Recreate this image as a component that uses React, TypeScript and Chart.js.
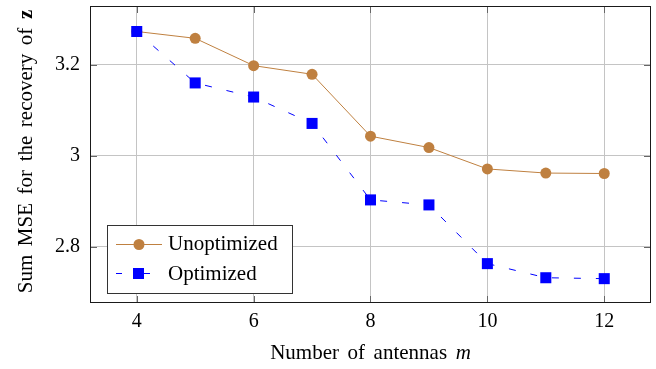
import React, { useEffect, useRef } from "react";
import { Chart, registerables } from "chart.js";
Chart.register(...registerables);

const antennas = [4, 5, 6, 7, 8, 9, 10, 11, 12];
const unoptimized = [3.273, 3.258, 3.198, 3.179, 3.043, 3.018, 2.971, 2.962, 2.961];
const optimized = [3.273, 3.16, 3.129, 3.071, 2.903, 2.892, 2.763, 2.732, 2.73];
const xTicks = [4, 6, 8, 10, 12];
const yTicks = [2.8, 3, 3.2];
const seriesNames = ["Unoptimized", "Optimized"];
const xTitle = "Number of antennas";
const xTitleVar = "m";
const yTitle = "Sum MSE for the recovery of";
const yTitleVar = "z";

const BROWN = "#BF8040";
const BLUE = "#0000FF";
const FONT = '"Liberation Serif", "Times New Roman", serif';
const EXTRA_SPACE = 3.3;

function spacedText(ctx: any, words: string[], fonts: string[], x: number, y: number, draw: boolean) {
  let cx = x;
  words.forEach((w, i) => {
    ctx.font = fonts[i];
    if (draw) ctx.fillText(w, cx, y);
    cx += ctx.measureText(w).width;
    if (i < words.length - 1) {
      ctx.font = fonts[0];
      cx += ctx.measureText(" ").width + EXTRA_SPACE;
    }
  });
  return cx - x;
}

const decorPlugin = {
  id: "decor",
  afterDatasetsDraw(chart: any) {
    const { ctx, chartArea } = chart;
    const { left, right, top, bottom } = chartArea;
    const xs = chart.scales.x;
    const ys = chart.scales.y;
    ctx.save();
    // inner tick marks
    ctx.strokeStyle = "#666";
    ctx.lineWidth = 1;
    ctx.beginPath();
    xTicks.forEach((t) => {
      const px = Math.round(xs.getPixelForValue(t)) + 0.5;
      ctx.moveTo(px, top);
      ctx.lineTo(px, top + 7);
      ctx.moveTo(px, bottom);
      ctx.lineTo(px, bottom - 7);
    });
    yTicks.forEach((t) => {
      const py = Math.round(ys.getPixelForValue(t)) + 0.5;
      ctx.moveTo(left, py);
      ctx.lineTo(left + 7, py);
      ctx.moveTo(right, py);
      ctx.lineTo(right - 7, py);
    });
    ctx.stroke();
    // frame
    ctx.strokeStyle = "#1a1a1a";
    ctx.strokeRect(left + 0.5, top + 0.5, right - left - 1, bottom - top - 1);

    // legend
    const lx = 107.5, ly = 225.5, lw = 185, lh = 68;
    ctx.fillStyle = "#ffffff";
    ctx.fillRect(lx, ly, lw, lh);
    ctx.strokeStyle = "#333";
    ctx.strokeRect(lx, ly, lw, lh);
    const r1 = 244.5, r2 = 273.5;
    ctx.strokeStyle = BROWN;
    ctx.beginPath();
    ctx.moveTo(116, r1);
    ctx.lineTo(162, r1);
    ctx.stroke();
    ctx.fillStyle = BROWN;
    ctx.beginPath();
    ctx.arc(139, r1, 5.5, 0, Math.PI * 2);
    ctx.fill();
    ctx.strokeStyle = BLUE;
    ctx.beginPath();
    ctx.moveTo(116, r2);
    ctx.lineTo(122, r2);
    ctx.moveTo(139, r2);
    ctx.lineTo(150, r2);
    ctx.stroke();
    ctx.fillStyle = BLUE;
    ctx.fillRect(133, r2 - 5.5, 11, 11);
    ctx.fillStyle = "#000";
    ctx.font = "21px " + FONT;
    ctx.textBaseline = "alphabetic";
    ctx.textAlign = "left";
    ctx.fillText(seriesNames[0], 168, 250);
    ctx.fillText(seriesNames[1], 168, 279.5);

    // x title
    const reg = "21px " + FONT;
    const xw = [...xTitle.split(" "), xTitleVar];
    const xf = xw.map((_, i) => (i === xw.length - 1 ? "italic 21px " + FONT : reg));
    const wx = spacedText(ctx, xw, xf, 0, 0, false);
    spacedText(ctx, xw, xf, (left + right) / 2 - wx / 2, 359, true);

    // y title
    ctx.translate(32, 151.5);
    ctx.rotate(-Math.PI / 2);
    const yw = [...yTitle.split(" "), yTitleVar];
    const yf = yw.map((_, i) => (i === yw.length - 1 ? "bold 21px " + FONT : reg));
    const wy = spacedText(ctx, yw, yf, 0, 0, false);
    spacedText(ctx, yw, yf, -wy / 2, 0, true);
    ctx.restore();
  },
};

export default function App() {
  const ref = useRef<HTMLCanvasElement>(null);
  useEffect(() => {
    if (!ref.current) return;
    const chart = new Chart(ref.current, {
      type: "line",
      data: {
        datasets: [
          {
            label: seriesNames[0],
            data: antennas.map((x, i) => ({ x, y: unoptimized[i] })),
            borderColor: BROWN,
            backgroundColor: BROWN,
            borderWidth: 1,
            pointStyle: "circle",
            pointRadius: 5.5,
            pointBorderWidth: 0,
            order: 1,
          },
          {
            label: seriesNames[1],
            data: antennas.map((x, i) => ({ x, y: optimized[i] })),
            borderColor: BLUE,
            backgroundColor: BLUE,
            borderWidth: 1,
            borderDash: [7, 15],
            pointStyle: "rect",
            pointRadius: 7.8,
            pointBorderWidth: 0,
            order: 0,
          },
        ],
      },
      options: {
        responsive: false,
        animation: false,
        devicePixelRatio: 1,
        layout: { autoPadding: false, padding: { top: 6, right: 5, left: 0, bottom: 0 } },
        plugins: { legend: { display: false }, tooltip: { enabled: false } },
        scales: {
          x: {
            type: "linear",
            min: 3.2,
            max: 12.8,
            afterBuildTicks: (s: any) => {
              s.ticks = xTicks.map((v) => ({ value: v }));
            },
            afterFit: (s: any) => {
              s.height = 66;
              s.paddingLeft = 0;
              s.paddingRight = 0;
            },
            grid: { color: "#c4c4c4", lineWidth: 1, drawTicks: false },
            border: { display: false },
            ticks: {
              color: "#000",
              font: { family: FONT, size: 20 },
              padding: 7,
              maxRotation: 0,
              callback: (v: any) => String(v),
            },
          },
          y: {
            type: "linear",
            min: 2.6765,
            max: 3.329,
            afterBuildTicks: (s: any) => {
              s.ticks = yTicks.map((v) => ({ value: v }));
            },
            afterFit: (s: any) => {
              s.width = 90;
              s.paddingTop = 0;
              s.paddingBottom = 0;
            },
            grid: { color: "#c4c4c4", lineWidth: 1, drawTicks: false },
            border: { display: false },
            ticks: {
              color: "#000",
              font: { family: FONT, size: 20 },
              padding: 10,
              callback: (v: any) => String(Math.round(v * 10) / 10),
            },
          },
        },
      },
      plugins: [decorPlugin],
    });
    return () => chart.destroy();
  }, []);
  return (
    <div style={{ position: "absolute", left: 0, top: 0, width: 656, height: 369, background: "#fff" }}>
      <canvas ref={ref} width={656} height={369} />
    </div>
  );
}
